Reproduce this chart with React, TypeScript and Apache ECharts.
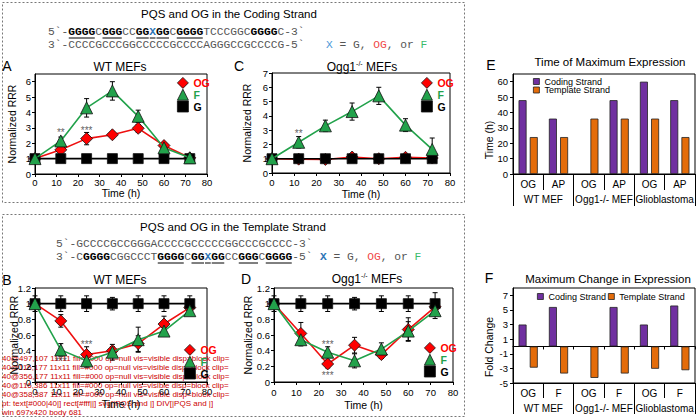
import React, { useEffect, useRef } from "react";
import * as echarts from "echarts";

// ---------- data ----------
const TIMES = [0, 12, 24, 36, 48, 60, 72];

const A_OG = [1, 1.57, 2.3, 2.55, 2.97, 1.85, 1.05];
const A_F = [1, 2.15, 4.3, 5.4, 3.75, 1.7, 1.05];
const A_G = [1, 1, 1, 1, 1, 1, 1];
const A_OG_ERR = [0.05, 0.15, 0.4, 0.2, 0.25, 0.15, 0.1];
const A_F_ERR = [0.05, 0.25, 0.6, 0.6, 0.4, 0.2, 0.1];
const A_G_ERR = [0.03, 0.03, 0.03, 0.03, 0.03, 0.03, 0.03];
const A_STARS: [number, number, string][] = [[12, 2.7, "**"], [24, 2.8, "***"]];

const C_OG = [1, 0.97, 0.95, 1.12, 1.0, 1.1, 1.05];
const C_F = [1, 2.15, 3.3, 4.3, 5.4, 3.35, 1.65];
const C_G = [1, 1, 1, 1, 1, 1, 1];
const C_OG_ERR = [0.05, 0.1, 0.1, 0.1, 0.1, 0.1, 0.1];
const C_F_ERR = [0.05, 0.4, 0.4, 0.6, 0.6, 0.45, 0.8];
const C_G_ERR = [0.05, 0.05, 0.05, 0.05, 0.05, 0.05, 0.05];
const C_STARS: [number, number, string][] = [[12, 2.8, "**"]];

const B_OG = [1, 0.78, 0.35, 0.4, 0.49, 0.74, 0.95];
const B_F = [1, 0.41, 0.27, 0.38, 0.54, 0.65, 0.91];
const B_G = [1, 1, 1, 1, 1, 1, 1];
const B_OG_ERR = [0.02, 0.08, 0.1, 0.05, 0.1, 0.1, 0.05];
const B_F_ERR = [0.02, 0.08, 0.08, 0.1, 0.16, 0.05, 0.05];
const B_G_ERR = [0.1, 0.1, 0.1, 0.08, 0.1, 0.1, 0.1];
const B_STARS: [number, number, string][] = [[12, 0.26, "***"], [24, 0.48, "***"]];

const D_OG = [1, 0.62, 0.23, 0.47, 0.35, 0.67, 0.96];
const D_F = [1, 0.54, 0.38, 0.27, 0.42, 0.65, 0.91];
const D_G = [1, 1, 1, 1, 1, 1, 1];
const D_OG_ERR = [0.02, 0.14, 0.05, 0.1, 0.05, 0.15, 0.05];
const D_F_ERR = [0.02, 0.08, 0.07, 0.09, 0.08, 0.12, 0.1];
const D_G_ERR = [0.1, 0.1, 0.1, 0.08, 0.1, 0.1, 0.14];
const D_STARS: [number, number, string][] = [[24, 0.48, "***"], [24, 0.08, "***"]];

const E_CATS = ["OG", "AP", "OG", "AP", "OG", "AP"];
const GROUPS = ["WT MEF", "Ogg1-/- MEF", "Glioblastoma"];
const E_CODING = [48, 36, null, 48, 60, 48];
const E_TEMPLATE = [24, 24, 36, 36, 36, 24];
const E_TICKS = [0, 10, 20, 30, 40, 50, 60];
const E_MAX = 65;

const F_CATS = ["OG", "F", "OG", "F", "OG", "F"];
const F_CODING = [3.0, 5.4, null, 5.4, 3.0, 5.6];
const F_TEMPLATE = [-2.9, -3.7, -4.3, -3.7, -3.05, -3.25];
const F_TICKS = [-5, -3, -1, 1, 3, 5, 7];

type Seg = [string, string, boolean?];
const CODING_TOP: Seg[] = [
  ["5`-", "n"], ["GGGG", "b", true], ["C", "n"], ["GGG", "b", true], ["CC", "n"],
  ["GG", "b", true], ["X", "x", true], ["GG", "b", true], ["C", "n"], ["GGGG", "b", true],
  ["TCCCGGC", "n"], ["GGGG", "b"], ["C-3`", "n"],
];
const CODING_BOTTOM: Seg[] = [["3`-CCCCGCCCGGCCCCCGCCCCAGGGCCGCCCCG-5`", "n"]];
const TEMPLATE_TOP: Seg[] = [["5`-GCCCCGCCGGGACCCCGCCCCCGGCCCGCCCC-3`", "n"]];
const TEMPLATE_BOTTOM: Seg[] = [
  ["3`-C", "n"], ["GGGG", "b"], ["CGGCCCT", "n"], ["GGGG", "b", true], ["C", "n"],
  ["GG", "b", true], ["X", "x", true], ["GG", "b", true], ["CC", "n"], ["GGG", "b", true],
  ["C", "n"], ["GGGG", "b", true], ["-5`", "n"],
];
const KEY_CODING: Seg[] = [["X", "xl"], [" = G, ", "n"], ["OG", "r"], [", or ", "n"], ["F", "g"]];
const KEY_TEMPLATE: Seg[] = [["X", "x"], [" = G, ", "n"], ["OG", "r"], [", or ", "n"], ["F", "g"]];

const FONT = "'Liberation Sans', Arial, sans-serif";
const MONO = "'Liberation Mono', 'Courier New', monospace";
const RED = "#FF0000";
const GREEN = "#22A24B";
const PURPLE = "#7030A0";
const ORANGE = "#E46C0A";
const E_GRID = { left: 513, top: 74, width: 182, height: 100 };

const MONO_SIZE = 11.25;
const rich = (fs: number) => ({
  n: { fontFamily: MONO, fontSize: fs, fill: "#555", color: "#555" },
  b: { fontFamily: MONO, fontSize: fs, fontWeight: "bold", fill: "#000", color: "#000" },
  x: { fontFamily: MONO, fontSize: fs, fontWeight: "bold", fill: "#2E75B6", color: "#2E75B6" },
  xl: { fontFamily: MONO, fontSize: fs, fill: "#4A98D8", color: "#4A98D8" },
  r: { fontFamily: MONO, fontSize: fs, fill: "#F04848", color: "#F04848" },
  g: { fontFamily: MONO, fontSize: fs, fill: "#3DBB6C", color: "#3DBB6C" },
});

function seqGraphics(x0: number, y: number, segs: Seg[]) {
  const cw = MONO_SIZE * 0.6;
  let text = "";
  let idx = 0;
  const out: any[] = [];
  for (const [t, s, u] of segs) {
    text += `{${s}|${t}}`;
    if (u) {
      out.push({
        type: "line",
        silent: true,
        shape: { x1: x0 + idx * cw + 0.5, y1: y + 6.5, x2: x0 + (idx + t.length) * cw - 0.5, y2: y + 6.5 },
        style: { stroke: "#000", lineWidth: 1 },
      });
    }
    idx += t.length;
  }
  out.unshift({
    type: "text",
    x: x0,
    y,
    silent: true,
    style: {
      text,
      rich: rich(MONO_SIZE),
      fontFamily: MONO,
      fontSize: MONO_SIZE,
      align: "left",
      textAlign: "left",
      verticalAlign: "middle",
      textVerticalAlign: "middle",
    },
  });
  return out;
}

function label(text: string, x: number, y: number, size: number, opts: any = {}) {
  const el: any = {
    type: "text",
    x,
    y,
    silent: true,
    rotation: opts.rotation || 0,
    style: {
      text,
      fontFamily: FONT,
      fontSize: size,
      fontWeight: opts.bold ? "bold" : "normal",
      fill: opts.fill || "#000",
      align: opts.align || "center",
      textAlign: opts.align || "center",
      verticalAlign: "middle",
      textVerticalAlign: "middle",
    },
  };
  if (opts.rich) el.style.rich = opts.rich;
  if (opts.id) el.id = opts.id;
  return el;
}

const oggTitle = (x: number, y: number) =>
  label("{a|Ogg1}{s|-/-}{a| MEFs}", x, y, 12, {
    rich: {
      a: { fontFamily: FONT, fontSize: 12, lineHeight: 14, fill: "#000", color: "#000" },
      s: { fontFamily: FONT, fontSize: 7, lineHeight: 14, verticalAlign: "top", fill: "#000", color: "#000" },
    },
  });

const errRender = (params: any, api: any) => {
  const x = api.value(0);
  const lo = api.value(1);
  const hi = api.value(2);
  const top = api.coord([x, hi]);
  const bot = api.coord([x, lo]);
  const w = 2.5;
  const style = { stroke: "#000", lineWidth: 1 };
  return {
    type: "group",
    children: [
      { type: "line", shape: { x1: top[0], y1: top[1], x2: bot[0], y2: bot[1] }, style },
      { type: "line", shape: { x1: top[0] - w, y1: top[1], x2: top[0] + w, y2: top[1] }, style },
      { type: "line", shape: { x1: bot[0] - w, y1: bot[1], x2: bot[0] + w, y2: bot[1] }, style },
    ],
  };
};

function linePanelSeries(
  ax: number,
  og: number[], f: number[], g: number[],
  ogErr: number[], fErr: number[], gErr: number[],
  stars: [number, number, string][]
) {
  const pts = (v: number[]) => TIMES.map((t, i) => [t, v[i]]);
  const errRows: number[][] = [];
  [[og, ogErr], [f, fErr], [g, gErr]].forEach(([v, e]) => {
    TIMES.forEach((t, i) => errRows.push([t, v[i] - e[i], v[i] + e[i]]));
  });
  const line = (name: string, v: number[], color: string, lineColor: string, symbol: string, size: number, z: number) => ({
    type: "line",
    name,
    xAxisIndex: ax,
    yAxisIndex: ax,
    data: pts(v),
    symbol,
    symbolSize: size,
    showAllSymbol: true,
    lineStyle: { color: lineColor, width: 1.6 },
    itemStyle: { color, borderColor: "#111", borderWidth: 0.8 },
    z,
    silent: true,
  });
  return [
    {
      type: "custom",
      name: "err" + ax,
      xAxisIndex: ax,
      yAxisIndex: ax,
      data: errRows,
      encode: { x: 0, y: [1, 2] },
      renderItem: errRender,
      z: 2,
      silent: true,
    },
    line("OG", og, RED, "#EE1010", "diamond", 12, 3),
    line("G", g, "#000", "#000", "rect", 10, 4),
    line("F", f, GREEN, GREEN, "triangle", 12, 5),
    {
      type: "scatter",
      name: "stars" + ax,
      xAxisIndex: ax,
      yAxisIndex: ax,
      data: stars,
      symbolSize: 1,
      itemStyle: { color: "rgba(0,0,0,0)" },
      label: {
        show: true,
        position: "inside",
        formatter: (p: any) => p.value[2],
        fontSize: 10,
        color: "#333",
        fontFamily: FONT,
      },
      z: 6,
      silent: true,
    },
  ];
}

const blackLine = { color: "#000", width: 1 };

function timeAxis(grid: number, margin: number, gap: number) {
  return {
    type: "value",
    gridIndex: grid,
    position: "bottom",
    min: 0,
    max: 80,
    interval: 10,
    axisLine: { show: true, onZero: false, lineStyle: blackLine },
    axisTick: { show: true, length: 3, lineStyle: blackLine },
    axisLabel: { fontSize: 9.5, color: "#000", margin, fontFamily: FONT },
    splitLine: { show: false },
    name: "Time (h)",
    nameLocation: "middle",
    nameGap: gap,
    nameMoveOverlap: false,
    nameTextStyle: { fontSize: 10.5, color: "#000", fontFamily: FONT },
  };
}

function rrrAxis(grid: number, max: number, interval: number, gap: number, showMax: boolean) {
  return {
    type: "value",
    gridIndex: grid,
    position: "left",
    min: 0,
    max,
    interval,
    axisLine: { show: true, onZero: false, lineStyle: blackLine },
    axisTick: { show: true, length: 3, lineStyle: blackLine },
    axisLabel: { fontSize: 9.5, color: "#000", margin: 4, fontFamily: FONT, showMaxLabel: showMax },
    splitLine: { show: false },
    name: "Normalized RRR",
    nameLocation: "middle",
    nameRotate: 90,
    nameGap: gap,
    nameMoveOverlap: false,
    nameTextStyle: { fontSize: 10.5, color: "#000", fontFamily: FONT },
  };
}

function catAxis(grid: number, data: string[], tickLen: number, margin: number, lineShow: boolean, onZero: boolean, labelShow = true) {
  return {
    type: "category",
    gridIndex: grid,
    data,
    position: "bottom",
    axisLine: { show: lineShow, onZero, lineStyle: blackLine },
    axisTick: { show: tickLen > 0, length: tickLen, interval: 0, lineStyle: blackLine },
    axisLabel: { show: labelShow, interval: 0, fontSize: 10, color: "#000", margin, fontFamily: FONT },
    splitLine: { show: false },
  };
}

function barYAxis(grid: number, min: number, max: number, ticks: number[], showLabels: boolean) {
  return {
    type: "value",
    gridIndex: grid,
    position: "left",
    min,
    max,
    axisLine: { show: true, onZero: false, lineStyle: blackLine },
    axisTick: { show: true, length: 3, lineStyle: blackLine, customValues: ticks },
    axisLabel: {
      show: showLabels,
      fontSize: 9.5,
      color: "#000",
      margin: 5,
      fontFamily: FONT,
      customValues: ticks,
    },
    splitLine: { show: false },
  };
}

const gridBox = (g: { left: number; top: number; width: number; height: number }) => ({
  ...g,
  show: true,
  borderColor: "#000",
  borderWidth: 1,
  backgroundColor: "transparent",
  containLabel: false,
});

function lineLegend(left: number, top: number) {
  return {
    orient: "vertical",
    left,
    top,
    itemWidth: 11,
    itemHeight: 11,
    itemGap: 0,
    selectedMode: false,
    padding: 0,
    itemStyle: { borderColor: "#111", borderWidth: 0.8 },
    textStyle: { fontSize: 10.5, fontWeight: "bold", fontFamily: FONT },
    data: [
      { name: "OG", icon: "diamond", textStyle: { color: RED } },
      { name: "F", icon: "triangle", textStyle: { color: GREEN } },
      { name: "G", icon: "rect", textStyle: { color: "#000" } },
    ],
  };
}

function barLegend(left: number, top: number, orient: string) {
  return {
    orient,
    left,
    top,
    itemWidth: 6,
    itemHeight: 6,
    itemGap: orient === "vertical" ? -0.5 : 2,
    selectedMode: false,
    padding: 0,
    itemStyle: { borderColor: "#222", borderWidth: 0.8 },
    textStyle: { fontSize: 9, color: "#000", fontFamily: FONT },
    data: [
      { name: "Coding Strand", icon: "rect" },
      { name: "Template Strand", icon: "rect" },
    ],
  };
}

function barSeries(name: string, data: (number | null)[], color: string, xi: number, yi: number) {
  return {
    type: "bar",
    name,
    xAxisIndex: xi,
    yAxisIndex: yi,
    data: data.map((v) => (v == null ? "-" : v)),
    barWidth: 8,
    barGap: "40%",
    itemStyle: { color, borderColor: "#222", borderWidth: 0.8 },
    silent: true,
  };
}

function eTickLabels() {
  return E_TICKS.map((v) =>
    label(String(v), E_GRID.left - 5, E_GRID.top + E_GRID.height * (1 - v / E_MAX), 9.5, { align: "right" })
  );
}

function buildOption(): any {
  const graphic: any[] = [
    {
      type: "rect",
      silent: true,
      shape: { x: 2.5, y: 2.5, width: 462, height: 200 },
      style: { fill: "none", stroke: "#777", lineWidth: 1, lineDash: [2, 2] },
    },
    {
      type: "rect",
      silent: true,
      shape: { x: 2.5, y: 214.5, width: 462, height: 202 },
      style: { fill: "none", stroke: "#777", lineWidth: 1, lineDash: [2, 2] },
    },
    label("PQS and OG in the Coding Strand", 229, 14, 11.5),
    ...seqGraphics(48, 31.5, CODING_TOP),
    ...seqGraphics(48, 44.5, CODING_BOTTOM),
    ...seqGraphics(326, 44.5, KEY_CODING),
    label("PQS and OG in the Template Strand", 233, 227, 11.5),
    ...seqGraphics(56, 243.5, TEMPLATE_TOP),
    ...seqGraphics(56, 256.5, TEMPLATE_BOTTOM),
    ...seqGraphics(320, 256.5, KEY_TEMPLATE),
    label("A", 7, 66, 14),
    label("C", 239, 66, 14),
    label("B", 7, 280, 14),
    label("D", 246, 279, 14),
    label("E", 491, 65, 14),
    label("F", 489, 278, 14),
    label("WT MEFs", 120, 67, 12),
    oggTitle(362, 67),
    label("WT MEFs", 120, 280, 12),
    oggTitle(367, 279),
    label("Time of Maximum Expression", 610, 62, 11.5),
    label("Maximum Change in Expression", 608, 279, 11.5),
    label("Time (h)", 489, 140, 10.5, { rotation: Math.PI / 2 }),
    label("Fold Change", 489, 347, 10.5, { rotation: Math.PI / 2 }),
    ...eTickLabels(),
  ];

  return {
    animation: false,
    backgroundColor: "#fff",
    textStyle: { fontFamily: FONT },
    grid: [
      gridBox({ left: 35, top: 74, width: 172, height: 100 }),
      gridBox({ left: 272, top: 73, width: 178, height: 100 }),
      gridBox({ left: 35, top: 288, width: 172, height: 94 }),
      gridBox({ left: 274, top: 288, width: 179, height: 94 }),
      gridBox(E_GRID),
      gridBox({ left: 513, top: 288, width: 182, height: 95 }),
    ],
    xAxis: [
      timeAxis(0, 3, 13),
      timeAxis(1, 4, 15),
      timeAxis(2, 4, 16),
      timeAxis(3, 5, 17),
      catAxis(4, E_CATS, 16, 5, true, false),
      catAxis(4, GROUPS, 32, 20, false, false),
      catAxis(5, F_CATS, 3, 5, true, true, false),
      catAxis(5, F_CATS, 15, 5, true, false),
      catAxis(5, GROUPS, 31, 20, false, false),
    ],
    yAxis: [
      rrrAxis(0, 6.5, 1, 18, false),
      rrrAxis(1, 7, 1, 20, true),
      rrrAxis(2, 1.2, 0.2, 16, true),
      rrrAxis(3, 1.2, 0.2, 21, true),
      barYAxis(4, 0, E_MAX, E_TICKS, false),
      barYAxis(5, -5, 8, F_TICKS, true),
    ],
    legend: [
      lineLegend(177, 77),
      lineLegend(421, 77),
      lineLegend(184, 344),
      lineLegend(424, 342),
      barLegend(533, 77, "vertical"),
      barLegend(537, 292, "horizontal"),
    ],
    graphic: { elements: graphic },
    series: [
      ...linePanelSeries(0, A_OG, A_F, A_G, A_OG_ERR, A_F_ERR, A_G_ERR, A_STARS),
      ...linePanelSeries(1, C_OG, C_F, C_G, C_OG_ERR, C_F_ERR, C_G_ERR, C_STARS),
      ...linePanelSeries(2, B_OG, B_F, B_G, B_OG_ERR, B_F_ERR, B_G_ERR, B_STARS),
      ...linePanelSeries(3, D_OG, D_F, D_G, D_OG_ERR, D_F_ERR, D_G_ERR, D_STARS),
      barSeries("Coding Strand", E_CODING, PURPLE, 4, 4),
      barSeries("Template Strand", E_TEMPLATE, ORANGE, 4, 4),
      barSeries("Coding Strand", F_CODING, PURPLE, 7, 5),
      barSeries("Template Strand", F_TEMPLATE, ORANGE, 7, 5),
    ],
  };
}

// temporary probe: what sits where the E tick labels should be
function probe(host: HTMLDivElement): string[] {
  const lines: string[] = [];
  const texts = Array.from(host.querySelectorAll("text")) as SVGTextElement[];
  const sixty = texts.filter((t) => (t.textContent || "").trim() === "40");
  sixty.forEach((t) => {
    const r = t.getBoundingClientRect();
    let clip = "";
    let p: any = t;
    while (p && p !== host) {
      if (p.getAttribute && p.getAttribute("clip-path")) { clip = p.getAttribute("clip-path"); break; }
      p = p.parentNode;
    }
    lines.push(
      `40@${Math.round(r.left)},${Math.round(r.top)} ${Math.round(r.width)}x${Math.round(r.height)} fill=${t.getAttribute("fill")} op=${t.getAttribute("opacity")} vis=${getComputedStyle(t).visibility} disp=${getComputedStyle(t).display} clip=${clip}`
    );
  });
  const stack = (document as any).elementsFromPoint ? document.elementsFromPoint(503, 113) : [];
  lines.push(
    "pt: " +
      Array.from(stack)
        .slice(0, 4)
        .map((e: any) => `${e.tagName}[${e.getAttribute("fill") || ""}|${(e.textContent || "").slice(0, 8)}|${e.getAttribute("d") ? e.getAttribute("d").slice(0, 24) : ""}]`)
        .join(" ")
  );
  const b = document.body.getBoundingClientRect();
  lines.push(`win ${window.innerWidth}x${window.innerHeight} body ${Math.round(b.width)}`);
  return lines;
}

export default function App() {
  const ref = useRef<HTMLDivElement>(null);
  useEffect(() => {
    if (!ref.current) return;
    const chart = echarts.init(ref.current, undefined, { renderer: "svg", width: 697, height: 420 });
    chart.setOption(buildOption());
    try {
      const lines = probe(ref.current);
      chart.setOption({
        graphic: {
          elements: lines.map((s, i) => ({
            id: "probe" + i,
            type: "text",
            x: 2,
            y: 420 - 4 - (lines.length - 1 - i) * 9,
            silent: true,
            style: { text: s, fontSize: 8, fill: "#c00", fontFamily: FONT, align: "left", verticalAlign: "bottom" },
          })),
        },
      });
    } catch (e: any) {
      chart.setOption({
        graphic: { elements: [{ id: "probeErr", type: "text", x: 2, y: 410, style: { text: "ERR " + e.message, fontSize: 8, fill: "#c00" } }] },
      });
    }
    return () => chart.dispose();
  }, []);
  return (
    <div
      ref={ref}
      style={{ position: "absolute", left: 0, top: 0, width: 697, height: 420, background: "#fff" }}
    />
  );
}
